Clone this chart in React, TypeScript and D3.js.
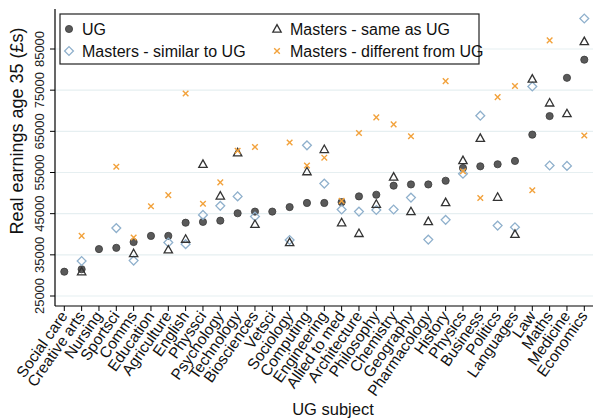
import React from "react";
import * as d3 from "d3";

const subjects = ["Social care","Creative arts","Nursing","Sportsci","Comms","Education","Agriculture","English","Physsci","Psychology","Technology","Biosciences","Vetsci","Sociology","Computing","Engineering","Allied to med","Architecture","Philosophy","Chemistry","Geography","Pharmacology","History","Physics","Business","Politics","Languages","Law","Maths","Medicine","Economics"];

const ugValues = [30900,31500,36400,36700,38100,39600,39600,42800,43000,43300,45100,45500,45500,46600,47600,47600,47800,49200,49600,51800,52100,52100,53000,56100,56500,57000,57800,64200,68700,78000,82400];

const similarValues: (number|null)[] = [null,33500,null,41500,33600,null,38000,37600,44700,46900,49200,44300,null,38600,61600,52300,46000,45500,45900,46000,48900,38700,43500,54700,68800,42100,41700,75900,56700,56600,92400];

const sameValues: (number|null)[] = [null,30900,null,null,35300,null,36200,38800,57000,49300,59800,42400,null,38000,55200,60600,42800,40200,47300,53900,45500,43100,47700,57900,63300,49000,40000,77700,71900,69300,86800];

const differentValues: (number|null)[] = [null,39600,null,56400,39200,46800,49500,74200,47400,52600,60300,61200,null,62300,56700,58600,48100,64600,68400,66700,63800,null,77200,55300,48800,73300,76000,50700,87100,null,64000];

const yTicks = [25000,35000,45000,55000,65000,75000,85000];

const legendLabels = ["UG","Masters - similar to UG","Masters - same as UG","Masters - different from UG"];

const FONT = "Liberation Sans, Arial, sans-serif";
const C_UG = "#5a5a5a";
const C_SIM = "#8fb0cc";
const C_SAME = "#333333";
const C_DIFF = "#f2a23c";

function Circle({x,y}:{x:number;y:number}) {
  return <circle cx={x} cy={y} r={3.6} fill={C_UG} stroke="#3a3a3a" strokeWidth={0.8} />;
}
function Diamond({x,y}:{x:number;y:number}) {
  const s = 4.4;
  return <path d={`M${x},${y-s}L${x+s},${y}L${x},${y+s}L${x-s},${y}Z`} fill="none" stroke={C_SIM} strokeWidth={1.3} />;
}
function Triangle({x,y}:{x:number;y:number}) {
  const s = 4.4;
  return <path d={`M${x},${y-s}L${x+s*0.95},${y+s*0.7}L${x-s*0.95},${y+s*0.7}Z`} fill="none" stroke={C_SAME} strokeWidth={1.3} />;
}
function Cross({x,y}:{x:number;y:number}) {
  const s = 2.8;
  return <path d={`M${x-s},${y-s}L${x+s},${y+s}M${x-s},${y+s}L${x+s},${y-s}`} stroke={C_DIFF} strokeWidth={1.4} />;
}

export default function App() {
  const W = 597, H = 418;
  const x = d3.scalePoint<string>().domain(subjects).range([64.3, 584.3]);
  const y = d3.scaleLinear().domain([25000, 85000]).range([296, 49]);
  const axisX = 55, axisTop = 9, axisBottom = 306, plotRight = 593;

  return (
    <svg width={W} height={H} style={{position:"absolute", left:0, top:0, background:"#fff"}} fontFamily={FONT}>
      {yTicks.map(t => (
        <line key={"g"+t} x1={axisX} x2={plotRight} y1={y(t)} y2={y(t)} stroke="#e6eff1" strokeWidth={1.2} />
      ))}
      <line x1={axisX} x2={axisX} y1={axisTop} y2={axisBottom} stroke="#000" strokeWidth={1.2} />
      {yTicks.map(t => (
        <g key={"yt"+t}>
          <line x1={axisX-5} x2={axisX} y1={y(t)} y2={y(t)} stroke="#000" strokeWidth={1} />
          <text transform={`translate(${axisX-11},${y(t)}) rotate(-90)`} textAnchor="middle" fontSize={13} fill="#222">{t}</text>
        </g>
      ))}
      <text transform={`translate(23,131) rotate(-90)`} textAnchor="middle" fontSize={18} fill="#111">Real earnings age 35 (£s)</text>
      <line x1={axisX} x2={plotRight} y1={axisBottom} y2={axisBottom} stroke="#000" strokeWidth={1.2} />
      {subjects.map(s => (
        <g key={"xt"+s}>
          <line x1={x(s)!} x2={x(s)!} y1={axisBottom} y2={axisBottom+5} stroke="#000" strokeWidth={1} />
          <text transform={`translate(${x(s)!+4},${axisBottom+10}) rotate(-55)`} textAnchor="end" fontSize={15.5} fill="#111">{s}</text>
        </g>
      ))}
      <text x={333} y={415} textAnchor="middle" fontSize={16.5} fill="#111">UG subject</text>

      {subjects.map((s,i) => <Circle key={"u"+i} x={x(s)!} y={y(ugValues[i])} />)}
      {subjects.map((s,i) => similarValues[i]==null ? null : <Diamond key={"d"+i} x={x(s)!} y={y(similarValues[i] as number)} />)}
      {subjects.map((s,i) => sameValues[i]==null ? null : <Triangle key={"t"+i} x={x(s)!} y={y(sameValues[i] as number)} />)}
      {subjects.map((s,i) => differentValues[i]==null ? null : <Cross key={"c"+i} x={x(s)!} y={y(differentValues[i] as number)} />)}

      <rect x={60} y={14} width={419} height={50} fill="#fff" stroke="#222" strokeWidth={1.2} />
      <Circle x={69} y={29} />
      <text x={82} y={35} fontSize={16} fill="#111">{legendLabels[0]}</text>
      <Diamond x={69} y={51} />
      <text x={82} y={57} fontSize={16} fill="#111">{legendLabels[1]}</text>
      <Triangle x={277} y={29} />
      <text x={290} y={35} fontSize={16} fill="#111">{legendLabels[2]}</text>
      <Cross x={277} y={51} />
      <text x={290} y={57} fontSize={16} fill="#111">{legendLabels[3]}</text>
    </svg>
  );
}
